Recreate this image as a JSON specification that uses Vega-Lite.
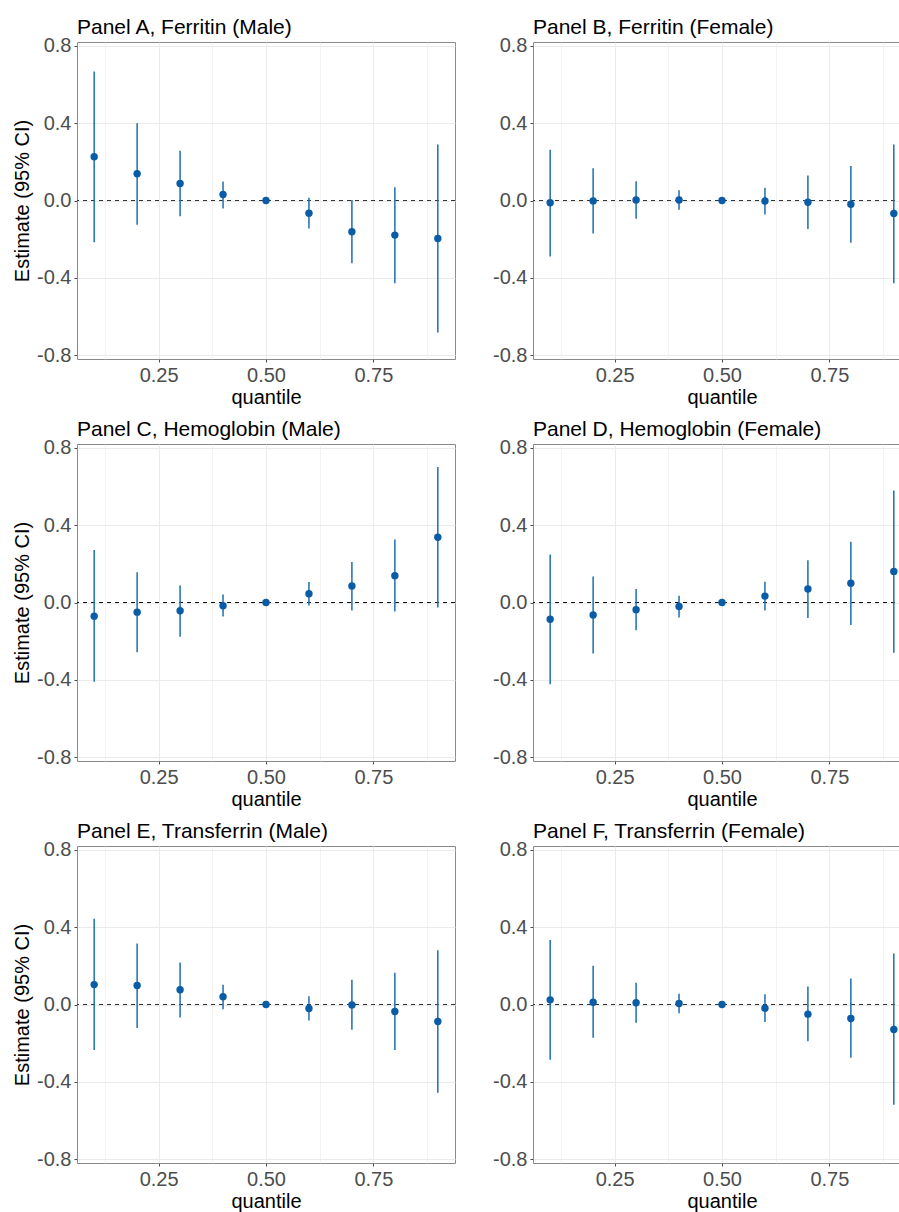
{
  "$schema": "https://vega.github.io/schema/vega-lite/v6.json",
  "padding": {"left": 12, "top": 16, "right": 0, "bottom": 0},
  "background": "white",
  "datasets": {
    "est": [
      {"panel": "A", "q": 0.1, "est": 0.226, "lo": -0.216, "hi": 0.667},
      {"panel": "A", "q": 0.2, "est": 0.138, "lo": -0.126, "hi": 0.400},
      {"panel": "A", "q": 0.3, "est": 0.088, "lo": -0.081, "hi": 0.257},
      {"panel": "A", "q": 0.4, "est": 0.031, "lo": -0.041, "hi": 0.098},
      {"panel": "A", "q": 0.5, "est": 0.0, "lo": 0.0, "hi": 0.0},
      {"panel": "A", "q": 0.6, "est": -0.066, "lo": -0.145, "hi": 0.014},
      {"panel": "A", "q": 0.7, "est": -0.162, "lo": -0.324, "hi": 0.002},
      {"panel": "A", "q": 0.8, "est": -0.179, "lo": -0.428, "hi": 0.069},
      {"panel": "A", "q": 0.9, "est": -0.197, "lo": -0.683, "hi": 0.290},
      {"panel": "B", "q": 0.1, "est": -0.012, "lo": -0.290, "hi": 0.262},
      {"panel": "B", "q": 0.2, "est": -0.002, "lo": -0.171, "hi": 0.167},
      {"panel": "B", "q": 0.3, "est": 0.003, "lo": -0.095, "hi": 0.100},
      {"panel": "B", "q": 0.4, "est": 0.003, "lo": -0.048, "hi": 0.053},
      {"panel": "B", "q": 0.5, "est": 0.0, "lo": 0.0, "hi": 0.0},
      {"panel": "B", "q": 0.6, "est": -0.003, "lo": -0.072, "hi": 0.066},
      {"panel": "B", "q": 0.7, "est": -0.009, "lo": -0.148, "hi": 0.129},
      {"panel": "B", "q": 0.8, "est": -0.019, "lo": -0.219, "hi": 0.179},
      {"panel": "B", "q": 0.9, "est": -0.067, "lo": -0.428, "hi": 0.290},
      {"panel": "C", "q": 0.1, "est": -0.071, "lo": -0.410, "hi": 0.272},
      {"panel": "C", "q": 0.2, "est": -0.050, "lo": -0.258, "hi": 0.156},
      {"panel": "C", "q": 0.3, "est": -0.043, "lo": -0.177, "hi": 0.088},
      {"panel": "C", "q": 0.4, "est": -0.017, "lo": -0.073, "hi": 0.042},
      {"panel": "C", "q": 0.5, "est": 0.0, "lo": 0.0, "hi": 0.0},
      {"panel": "C", "q": 0.6, "est": 0.045, "lo": -0.016, "hi": 0.106},
      {"panel": "C", "q": 0.7, "est": 0.085, "lo": -0.042, "hi": 0.210},
      {"panel": "C", "q": 0.8, "est": 0.139, "lo": -0.047, "hi": 0.326},
      {"panel": "C", "q": 0.9, "est": 0.338, "lo": -0.026, "hi": 0.701},
      {"panel": "D", "q": 0.1, "est": -0.087, "lo": -0.423, "hi": 0.248},
      {"panel": "D", "q": 0.2, "est": -0.065, "lo": -0.264, "hi": 0.135},
      {"panel": "D", "q": 0.3, "est": -0.037, "lo": -0.143, "hi": 0.070},
      {"panel": "D", "q": 0.4, "est": -0.021, "lo": -0.077, "hi": 0.035},
      {"panel": "D", "q": 0.5, "est": 0.0, "lo": 0.0, "hi": 0.0},
      {"panel": "D", "q": 0.6, "est": 0.033, "lo": -0.042, "hi": 0.107},
      {"panel": "D", "q": 0.7, "est": 0.070, "lo": -0.080, "hi": 0.218},
      {"panel": "D", "q": 0.8, "est": 0.100, "lo": -0.117, "hi": 0.314},
      {"panel": "D", "q": 0.9, "est": 0.161, "lo": -0.260, "hi": 0.580},
      {"panel": "E", "q": 0.1, "est": 0.103, "lo": -0.236, "hi": 0.443},
      {"panel": "E", "q": 0.2, "est": 0.098, "lo": -0.121, "hi": 0.316},
      {"panel": "E", "q": 0.3, "est": 0.076, "lo": -0.067, "hi": 0.217},
      {"panel": "E", "q": 0.4, "est": 0.040, "lo": -0.024, "hi": 0.102},
      {"panel": "E", "q": 0.5, "est": 0.0, "lo": 0.0, "hi": 0.0},
      {"panel": "E", "q": 0.6, "est": -0.021, "lo": -0.083, "hi": 0.043},
      {"panel": "E", "q": 0.7, "est": -0.002, "lo": -0.131, "hi": 0.128},
      {"panel": "E", "q": 0.8, "est": -0.036, "lo": -0.236, "hi": 0.164},
      {"panel": "E", "q": 0.9, "est": -0.088, "lo": -0.457, "hi": 0.281},
      {"panel": "F", "q": 0.1, "est": 0.024, "lo": -0.286, "hi": 0.334},
      {"panel": "F", "q": 0.2, "est": 0.012, "lo": -0.172, "hi": 0.200},
      {"panel": "F", "q": 0.3, "est": 0.009, "lo": -0.095, "hi": 0.112},
      {"panel": "F", "q": 0.4, "est": 0.005, "lo": -0.045, "hi": 0.055},
      {"panel": "F", "q": 0.5, "est": 0.0, "lo": 0.0, "hi": 0.0},
      {"panel": "F", "q": 0.6, "est": -0.019, "lo": -0.091, "hi": 0.053},
      {"panel": "F", "q": 0.7, "est": -0.050, "lo": -0.190, "hi": 0.093},
      {"panel": "F", "q": 0.8, "est": -0.072, "lo": -0.276, "hi": 0.134},
      {"panel": "F", "q": 0.9, "est": -0.129, "lo": -0.519, "hi": 0.264}
    ]
  },
  "data": {"name": "est"},
  "spacing": 10,
  "vconcat": [
    {
      "spacing": 36,
      "hconcat": [
        {
          "title": "Panel A, Ferritin (Male)",
          "width": 378, "height": 317,
          "layer": [
            {"data": {"values": [{"v": 0}]}, "mark": {"type": "rule", "color": "#333333", "strokeDash": [4, 4], "strokeWidth": 1},
             "encoding": {"y": {"field": "v", "type": "quantitative", "scale": {"domain": [-0.82, 0.82], "nice": false, "zero": false},
               "axis": {"title": "Estimate (95% CI)", "values": [-0.8, -0.6, -0.4, -0.2, 0, 0.2, 0.4, 0.6, 0.8], "labelExpr": "abs(round(datum.value*10)) % 4 == 0 ? replace(format(datum.value, '.1f'), '\u2212', '-') : ''", "tickOpacity": {"condition": {"test": "abs(round(datum.value*10)) % 4 == 0", "value": 1}, "value": 0}, "gridWidth": {"condition": {"test": "abs(round(datum.value*10)) % 4 == 0", "value": 1}, "value": 0.6}}}}},
            {"transform": [{"filter": "datum.panel == 'A'"}], "mark": {"type": "rule", "color": "#1c6fae", "strokeWidth": 1.5},
             "encoding": {
               "x": {"field": "q", "type": "quantitative", "scale": {"domain": [0.06, 0.94], "nice": false, "zero": false},
                 "axis": {"title": "quantile", "values": [0.125, 0.25, 0.375, 0.5, 0.625, 0.75, 0.875], "labelExpr": "round(datum.value*8) % 2 == 0 ? format(datum.value, '.2f') : ''", "tickOpacity": {"condition": {"test": "round(datum.value*8) % 2 == 0", "value": 1}, "value": 0}, "gridWidth": {"condition": {"test": "round(datum.value*8) % 2 == 0", "value": 1}, "value": 0.6}}},
               "y": {"field": "lo", "type": "quantitative"}, "y2": {"field": "hi"}}},
            {"transform": [{"filter": "datum.panel == 'A'"}], "mark": {"type": "point", "filled": true, "opacity": 1, "size": 55, "color": "#0a5ca6"},
             "encoding": {"x": {"field": "q", "type": "quantitative"}, "y": {"field": "est", "type": "quantitative"}}}
          ]
        },
        {
          "title": "Panel B, Ferritin (Female)",
          "width": 378, "height": 317,
          "layer": [
            {"data": {"values": [{"v": 0}]}, "mark": {"type": "rule", "color": "#333333", "strokeDash": [4, 4], "strokeWidth": 1},
             "encoding": {"y": {"field": "v", "type": "quantitative", "scale": {"domain": [-0.82, 0.82], "nice": false, "zero": false},
               "axis": {"title": null, "values": [-0.8, -0.6, -0.4, -0.2, 0, 0.2, 0.4, 0.6, 0.8], "labelExpr": "abs(round(datum.value*10)) % 4 == 0 ? replace(format(datum.value, '.1f'), '\u2212', '-') : ''", "tickOpacity": {"condition": {"test": "abs(round(datum.value*10)) % 4 == 0", "value": 1}, "value": 0}, "gridWidth": {"condition": {"test": "abs(round(datum.value*10)) % 4 == 0", "value": 1}, "value": 0.6}}}}},
            {"transform": [{"filter": "datum.panel == 'B'"}], "mark": {"type": "rule", "color": "#1c6fae", "strokeWidth": 1.5},
             "encoding": {
               "x": {"field": "q", "type": "quantitative", "scale": {"domain": [0.06, 0.94], "nice": false, "zero": false},
                 "axis": {"title": "quantile", "values": [0.125, 0.25, 0.375, 0.5, 0.625, 0.75, 0.875], "labelExpr": "round(datum.value*8) % 2 == 0 ? format(datum.value, '.2f') : ''", "tickOpacity": {"condition": {"test": "round(datum.value*8) % 2 == 0", "value": 1}, "value": 0}, "gridWidth": {"condition": {"test": "round(datum.value*8) % 2 == 0", "value": 1}, "value": 0.6}}},
               "y": {"field": "lo", "type": "quantitative"}, "y2": {"field": "hi"}}},
            {"transform": [{"filter": "datum.panel == 'B'"}], "mark": {"type": "point", "filled": true, "opacity": 1, "size": 55, "color": "#0a5ca6"},
             "encoding": {"x": {"field": "q", "type": "quantitative"}, "y": {"field": "est", "type": "quantitative"}}}
          ]
        }
      ]
    },
    {
      "spacing": 36,
      "hconcat": [
        {
          "title": "Panel C, Hemoglobin (Male)",
          "width": 378, "height": 317,
          "layer": [
            {"data": {"values": [{"v": 0}]}, "mark": {"type": "rule", "color": "#111111", "strokeDash": [4, 4], "strokeWidth": 1},
             "encoding": {"y": {"field": "v", "type": "quantitative", "scale": {"domain": [-0.82, 0.82], "nice": false, "zero": false},
               "axis": {"title": "Estimate (95% CI)", "values": [-0.8, -0.6, -0.4, -0.2, 0, 0.2, 0.4, 0.6, 0.8], "labelExpr": "abs(round(datum.value*10)) % 4 == 0 ? replace(format(datum.value, '.1f'), '\u2212', '-') : ''", "tickOpacity": {"condition": {"test": "abs(round(datum.value*10)) % 4 == 0", "value": 1}, "value": 0}, "gridWidth": {"condition": {"test": "abs(round(datum.value*10)) % 4 == 0", "value": 1}, "value": 0.6}}}}},
            {"transform": [{"filter": "datum.panel == 'C'"}], "mark": {"type": "rule", "color": "#1c6fae", "strokeWidth": 1.5},
             "encoding": {
               "x": {"field": "q", "type": "quantitative", "scale": {"domain": [0.06, 0.94], "nice": false, "zero": false},
                 "axis": {"title": "quantile", "values": [0.125, 0.25, 0.375, 0.5, 0.625, 0.75, 0.875], "labelExpr": "round(datum.value*8) % 2 == 0 ? format(datum.value, '.2f') : ''", "tickOpacity": {"condition": {"test": "round(datum.value*8) % 2 == 0", "value": 1}, "value": 0}, "gridWidth": {"condition": {"test": "round(datum.value*8) % 2 == 0", "value": 1}, "value": 0.6}}},
               "y": {"field": "lo", "type": "quantitative"}, "y2": {"field": "hi"}}},
            {"transform": [{"filter": "datum.panel == 'C'"}], "mark": {"type": "point", "filled": true, "opacity": 1, "size": 55, "color": "#0a5ca6"},
             "encoding": {"x": {"field": "q", "type": "quantitative"}, "y": {"field": "est", "type": "quantitative"}}}
          ]
        },
        {
          "title": "Panel D, Hemoglobin (Female)",
          "width": 378, "height": 317,
          "layer": [
            {"data": {"values": [{"v": 0}]}, "mark": {"type": "rule", "color": "#111111", "strokeDash": [4, 4], "strokeWidth": 1},
             "encoding": {"y": {"field": "v", "type": "quantitative", "scale": {"domain": [-0.82, 0.82], "nice": false, "zero": false},
               "axis": {"title": null, "values": [-0.8, -0.6, -0.4, -0.2, 0, 0.2, 0.4, 0.6, 0.8], "labelExpr": "abs(round(datum.value*10)) % 4 == 0 ? replace(format(datum.value, '.1f'), '\u2212', '-') : ''", "tickOpacity": {"condition": {"test": "abs(round(datum.value*10)) % 4 == 0", "value": 1}, "value": 0}, "gridWidth": {"condition": {"test": "abs(round(datum.value*10)) % 4 == 0", "value": 1}, "value": 0.6}}}}},
            {"transform": [{"filter": "datum.panel == 'D'"}], "mark": {"type": "rule", "color": "#1c6fae", "strokeWidth": 1.5},
             "encoding": {
               "x": {"field": "q", "type": "quantitative", "scale": {"domain": [0.06, 0.94], "nice": false, "zero": false},
                 "axis": {"title": "quantile", "values": [0.125, 0.25, 0.375, 0.5, 0.625, 0.75, 0.875], "labelExpr": "round(datum.value*8) % 2 == 0 ? format(datum.value, '.2f') : ''", "tickOpacity": {"condition": {"test": "round(datum.value*8) % 2 == 0", "value": 1}, "value": 0}, "gridWidth": {"condition": {"test": "round(datum.value*8) % 2 == 0", "value": 1}, "value": 0.6}}},
               "y": {"field": "lo", "type": "quantitative"}, "y2": {"field": "hi"}}},
            {"transform": [{"filter": "datum.panel == 'D'"}], "mark": {"type": "point", "filled": true, "opacity": 1, "size": 55, "color": "#0a5ca6"},
             "encoding": {"x": {"field": "q", "type": "quantitative"}, "y": {"field": "est", "type": "quantitative"}}}
          ]
        }
      ]
    },
    {
      "spacing": 36,
      "hconcat": [
        {
          "title": "Panel E, Transferrin (Male)",
          "width": 378, "height": 317,
          "layer": [
            {"data": {"values": [{"v": 0}]}, "mark": {"type": "rule", "color": "#333333", "strokeDash": [4, 4], "strokeWidth": 1},
             "encoding": {"y": {"field": "v", "type": "quantitative", "scale": {"domain": [-0.82, 0.82], "nice": false, "zero": false},
               "axis": {"title": "Estimate (95% CI)", "values": [-0.8, -0.6, -0.4, -0.2, 0, 0.2, 0.4, 0.6, 0.8], "labelExpr": "abs(round(datum.value*10)) % 4 == 0 ? replace(format(datum.value, '.1f'), '\u2212', '-') : ''", "tickOpacity": {"condition": {"test": "abs(round(datum.value*10)) % 4 == 0", "value": 1}, "value": 0}, "gridWidth": {"condition": {"test": "abs(round(datum.value*10)) % 4 == 0", "value": 1}, "value": 0.6}}}}},
            {"transform": [{"filter": "datum.panel == 'E'"}], "mark": {"type": "rule", "color": "#1c6fae", "strokeWidth": 1.5},
             "encoding": {
               "x": {"field": "q", "type": "quantitative", "scale": {"domain": [0.06, 0.94], "nice": false, "zero": false},
                 "axis": {"title": "quantile", "values": [0.125, 0.25, 0.375, 0.5, 0.625, 0.75, 0.875], "labelExpr": "round(datum.value*8) % 2 == 0 ? format(datum.value, '.2f') : ''", "tickOpacity": {"condition": {"test": "round(datum.value*8) % 2 == 0", "value": 1}, "value": 0}, "gridWidth": {"condition": {"test": "round(datum.value*8) % 2 == 0", "value": 1}, "value": 0.6}}},
               "y": {"field": "lo", "type": "quantitative"}, "y2": {"field": "hi"}}},
            {"transform": [{"filter": "datum.panel == 'E'"}], "mark": {"type": "point", "filled": true, "opacity": 1, "size": 55, "color": "#0a5ca6"},
             "encoding": {"x": {"field": "q", "type": "quantitative"}, "y": {"field": "est", "type": "quantitative"}}}
          ]
        },
        {
          "title": "Panel F, Transferrin (Female)",
          "width": 378, "height": 317,
          "layer": [
            {"data": {"values": [{"v": 0}]}, "mark": {"type": "rule", "color": "#333333", "strokeDash": [4, 4], "strokeWidth": 1},
             "encoding": {"y": {"field": "v", "type": "quantitative", "scale": {"domain": [-0.82, 0.82], "nice": false, "zero": false},
               "axis": {"title": null, "values": [-0.8, -0.6, -0.4, -0.2, 0, 0.2, 0.4, 0.6, 0.8], "labelExpr": "abs(round(datum.value*10)) % 4 == 0 ? replace(format(datum.value, '.1f'), '\u2212', '-') : ''", "tickOpacity": {"condition": {"test": "abs(round(datum.value*10)) % 4 == 0", "value": 1}, "value": 0}, "gridWidth": {"condition": {"test": "abs(round(datum.value*10)) % 4 == 0", "value": 1}, "value": 0.6}}}}},
            {"transform": [{"filter": "datum.panel == 'F'"}], "mark": {"type": "rule", "color": "#1c6fae", "strokeWidth": 1.5},
             "encoding": {
               "x": {"field": "q", "type": "quantitative", "scale": {"domain": [0.06, 0.94], "nice": false, "zero": false},
                 "axis": {"title": "quantile", "values": [0.125, 0.25, 0.375, 0.5, 0.625, 0.75, 0.875], "labelExpr": "round(datum.value*8) % 2 == 0 ? format(datum.value, '.2f') : ''", "tickOpacity": {"condition": {"test": "round(datum.value*8) % 2 == 0", "value": 1}, "value": 0}, "gridWidth": {"condition": {"test": "round(datum.value*8) % 2 == 0", "value": 1}, "value": 0.6}}},
               "y": {"field": "lo", "type": "quantitative"}, "y2": {"field": "hi"}}},
            {"transform": [{"filter": "datum.panel == 'F'"}], "mark": {"type": "point", "filled": true, "opacity": 1, "size": 55, "color": "#0a5ca6"},
             "encoding": {"x": {"field": "q", "type": "quantitative"}, "y": {"field": "est", "type": "quantitative"}}}
          ]
        }
      ]
    }
  ],
  "config": {
    "font": "Liberation Sans",
    "view": {"stroke": "#8a8a8a", "strokeWidth": 1},
    "title": {"fontSize": 21, "fontWeight": "normal", "color": "#000000", "anchor": "start", "frame": "group", "baseline": "alphabetic", "offset": -2, "font": "Liberation Sans"},
    "axis": {
      "domain": false,
      "gridColor": "#ebebeb",
      "tickColor": "#4d4d4d",
      "tickSize": 3,
      "labelFontSize": 20,
      "labelColor": "#4d4d4d",
      "labelFont": "Liberation Sans",
      "titleFontSize": 20,
      "titleFontWeight": "normal",
      "titleColor": "#000000",
      "titleFont": "Liberation Sans"
    },
    "axisY": {"labelPadding": 3, "titlePadding": 4},
    "axisX": {"labelPadding": 3, "titlePadding": 2}
  }
}
